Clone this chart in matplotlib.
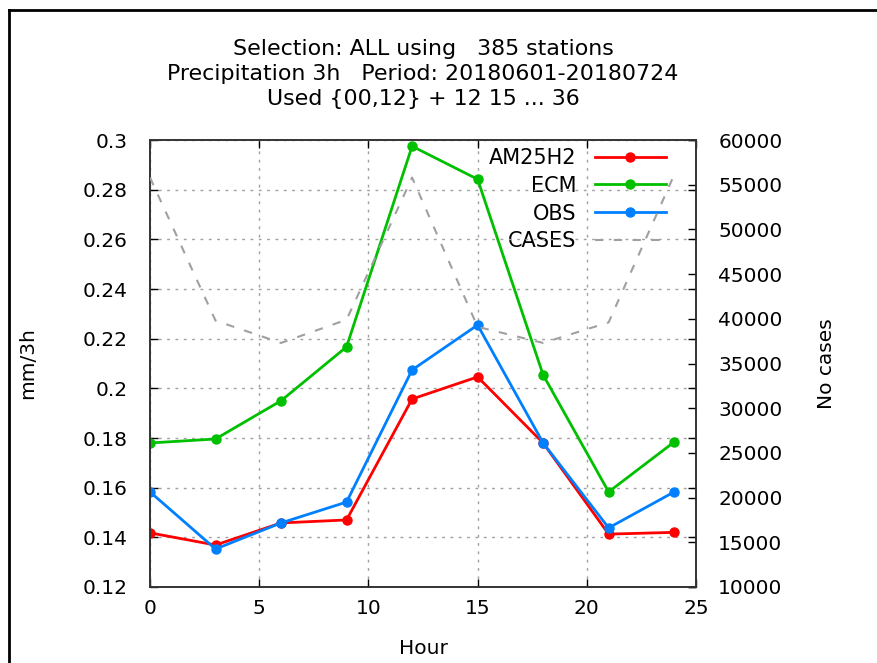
"""Diurnal cycle of 3h precipitation, gnuplot-style verification plot."""

import matplotlib

matplotlib.use("Agg")
import matplotlib.pyplot as plt
from matplotlib.lines import Line2D

hours = [0, 3, 6, 9, 12, 15, 18, 21, 24]
am25h2 = [0.1418, 0.1369, 0.1458, 0.1470, 0.1957, 0.2046, 0.1780, 0.1413, 0.1420]
ecm = [0.1780, 0.1796, 0.1950, 0.2167, 0.2975, 0.2842, 0.2054, 0.1583, 0.1784]
obs = [0.1583, 0.1353, 0.1458, 0.1542, 0.2074, 0.2255, 0.1780, 0.1438, 0.1583]
cases = [55800, 39800, 37300, 39900, 55800, 39100, 37300, 39600, 56100]

title_lines = [
    "Selection: ALL using   385 stations",
    "Precipitation 3h   Period: 20180601-20180724",
    "Used {00,12} + 12 15 ... 36",
]

FS = 14.5
plt.rcParams["font.family"] = ["DejaVu Sans"]
plt.rcParams["font.size"] = FS

fig = plt.figure(figsize=(8.77, 6.63), dpi=100)
ax = fig.add_axes([150 / 877, 1 - 587 / 663, 546 / 877, 447 / 663])
ax2 = ax.twinx()

RED, GREEN, BLUE, GRAY = "#ff0000", "#00c000", "#0080ff", "#a0a0a0"
style = dict(lw=2.0, marker="o", ms=6.5)
l1, = ax.plot(hours, am25h2, color=RED, label="AM25H2", **style)
l2, = ax.plot(hours, ecm, color=GREEN, label="ECM", **style)
l3, = ax.plot(hours, obs, color=BLUE, label="OBS", **style)
l4, = ax2.plot(hours, cases, color=GRAY, lw=1.5, dashes=(4, 5), label="CASES")

ax.set_xlim(0, 25)
ax.set_ylim(0.12, 0.3)
ax.set_xticks([0, 5, 10, 15, 20, 25])
ax.set_yticks([0.12, 0.14, 0.16, 0.18, 0.2, 0.22, 0.24, 0.26, 0.28, 0.3])
ax.set_yticklabels(["0.12", "0.14", "0.16", "0.18", "0.2", "0.22", "0.24",
                    "0.26", "0.28", "0.3"])
ax2.set_ylim(10000, 60000)
ax2.set_yticks(range(10000, 60001, 5000))

ax.grid(True, color=GRAY, linestyle=(0, (2, 4)), lw=1)
ax.tick_params(direction="in", length=6, width=1, top=True, right=True,
               labelsize=FS, colors="black")
ax.tick_params(axis="y", pad=16)
ax.tick_params(axis="x", pad=9)
ax2.tick_params(direction="in", length=6, width=1, labelsize=FS, pad=16)
for a in (ax, ax2):
    for s in a.spines.values():
        s.set_color("#333333")
        s.set_linewidth(1.2)

ax.set_xlabel("Hour", labelpad=15)
ax.set_ylabel("mm/3h", labelpad=33)
ax2.set_ylabel("No cases", labelpad=25)

leg = ax.legend(handles=[l1, l2, l3, l4], loc="upper right",
                bbox_to_anchor=((668 - 150) / 546, (587 - 146) / 447),
                markerfirst=False, frameon=True, fancybox=False,
                framealpha=1, edgecolor="none", facecolor="white",
                borderpad=0.1, borderaxespad=0, labelspacing=0.37,
                handlelength=3.4, handletextpad=0.9, fontsize=15)
leg.set_zorder(1)
l4.set_zorder(3)

fig.text(423 / 877, 1 - 74 / 663, "\n".join(title_lines), ha="center",
         va="center", fontsize=15.9, linespacing=1.32)

# outer frame (top and left edges only are inside the picture)
fig.add_artist(Line2D([9 / 877, 1], [1 - 10 / 663, 1 - 10 / 663],
                      transform=fig.transFigure, color="black", lw=2))
fig.add_artist(Line2D([9 / 877, 9 / 877], [0, 1 - 10 / 663],
                      transform=fig.transFigure, color="black", lw=2))

fig.savefig("out.png", dpi=100)
